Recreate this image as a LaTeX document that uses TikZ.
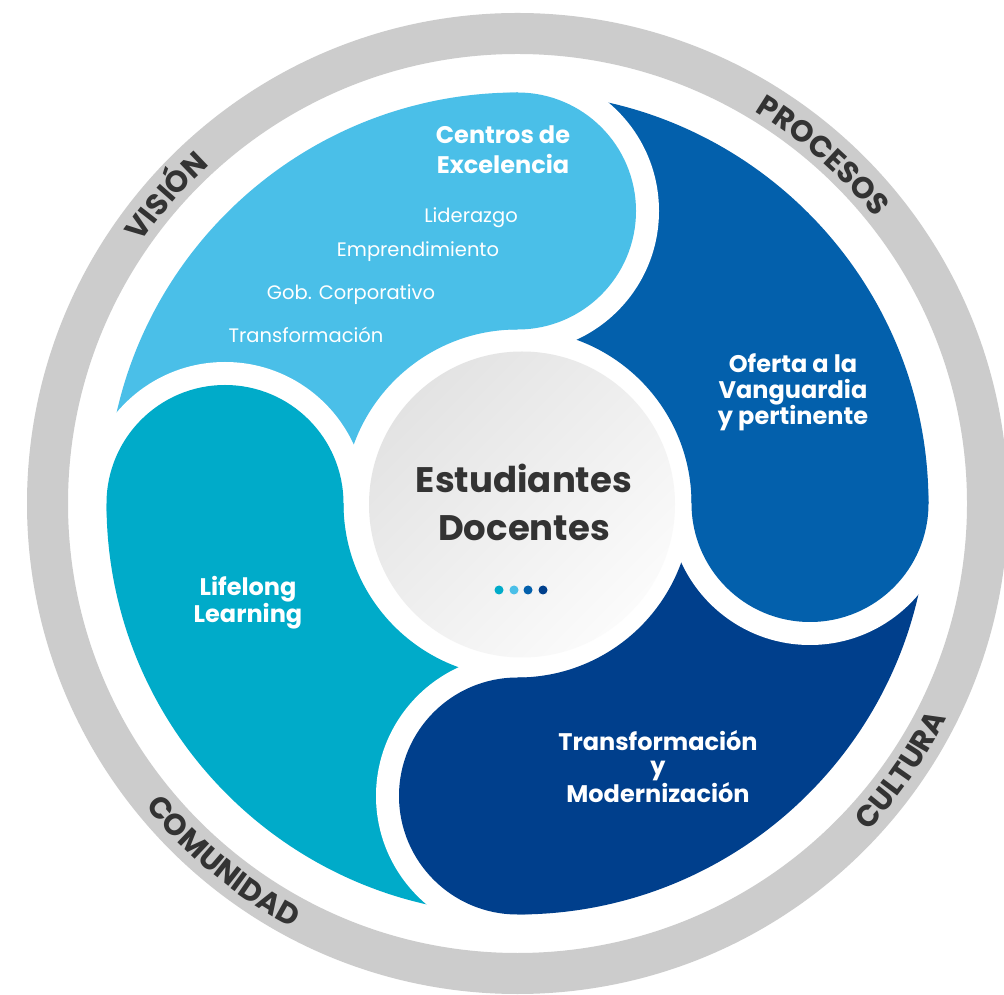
\documentclass[tikz,border=0pt]{standalone}
\usepackage{fontspec}
\setmainfont{Poppins}
\usetikzlibrary{decorations.text}
\definecolor{ringgray}{HTML}{CCCCCC}
\definecolor{cLight}{HTML}{4ABFE8}
\definecolor{cMed}{HTML}{0360AC}
\definecolor{cDark}{HTML}{003F8C}
\definecolor{cTeal}{HTML}{00ABC9}
\definecolor{txt}{HTML}{333333}
\definecolor{gA}{HTML}{E3E3E3}
\definecolor{gB}{HTML}{FBFBFB}
\newcommand{\ringfont}{\fontsize{30}{30}\selectfont\bfseries\color{txt}}
\tikzset{
  lab/.style={text=white, align=center, inner sep=0pt},
  item/.style={text=white, inner sep=0pt, anchor=base, font=\fontsize{19.5}{19.5}\selectfont},
  ringtext/.style={decorate, decoration={text along path, text align=center, text={|\ringfont|#1}}},
  dot/.style={circle, inner sep=0pt, minimum size=9pt}
}
\begin{document}
\begin{tikzpicture}[x=1pt,y=1pt]
\useasboundingbox (0,0) rectangle (1004,994);
\clip (0,0) rectangle (1004,994);
\fill[white] (0,0) rectangle (1004,994);
\begin{scope}[shift={(517.5,490.5)}]
  \draw[ringgray, line width=41pt] (0,0) circle[radius=470];
  % petal bodies
  \foreach \a/\c in {90/cLight, 0/cMed, -90/cDark, 180/cTeal} {
    \fill[\c] (\a:411) arc[start angle=\a, end angle=\a+90, radius=411]
      -- (\a+90:174) arc[start angle=\a+90, end angle=\a, radius=174] -- cycle;
  }
  % white cuts around each bulge
  \foreach \a in {90, 0, -90, 180} {
    \begin{scope}
      \clip (0,0) -- (\a-90:600) arc[start angle=\a-90, end angle=\a, radius=600] -- cycle;
      \fill[white] (\a:292.5) circle[radius=141.5];
    \end{scope}
  }
  % bulges
  \foreach \a/\c in {90/cLight, 0/cMed, -90/cDark, 180/cTeal} {
    \fill[\c] (\a:292.5) circle[radius=118.5];
  }
  % ring texts
  \path[ringtext={VISIÓN}] (168.8:458) arc[start angle=168.8, end angle=108.8, radius=458];
  \path[ringtext={PROCESOS}] (78.7:458) arc[start angle=78.7, end angle=18.7, radius=458];
  \path[ringtext={CULTURA}] (-64.8:480) arc[start angle=-64.8, end angle=-4.8, radius=480];
  \path[ringtext={COMUNIDAD}] (-159.4:480) arc[start angle=-159.4, end angle=-99.4, radius=480];
\end{scope}
% centre
\shade[top color=gA, bottom color=gB, shading angle=45] (522,489.5) circle[radius=153];
\node[text=txt, align=center, inner sep=0pt, font=\bfseries\fontsize{35.5}{48}\selectfont] (centre) at (524,491.5) {Estudiantes\\Docentes};
\node[dot, fill=cTeal] (d1) at (499,404) {};
\node[dot, fill=cLight] (d2) at (514,404) {};
\node[dot, fill=cMed] (d3) at (528,404) {};
\node[dot, fill=cDark] (d4) at (543,404) {};
% labels
\node[lab, font=\bfseries\fontsize{24}{30}\selectfont] (centros) at (503,844) {Centros de\\Excelencia};
\node[item] (lid) at (471,771) {Liderazgo};
\node[item] (emp) at (418,737) {Emprendimiento};
\node[item] (gob) at (351,694) {Gob. Corporativo};
\node[item] (tra) at (306,651) {Transformación};
\node[lab, font=\bfseries\fontsize{24}{26}\selectfont] (oferta) at (793,602) {Oferta a la\\Vanguardia\\y pertinente};
\node[lab, font=\bfseries\fontsize{24}{25}\selectfont] (life) at (248,391.5) {Lifelong\\Learning};
\node[lab, font=\bfseries\fontsize{24}{24}\selectfont] (trans) at (658,227.5) {Transformación\\y\\Modernización};
\end{tikzpicture}
\end{document}
